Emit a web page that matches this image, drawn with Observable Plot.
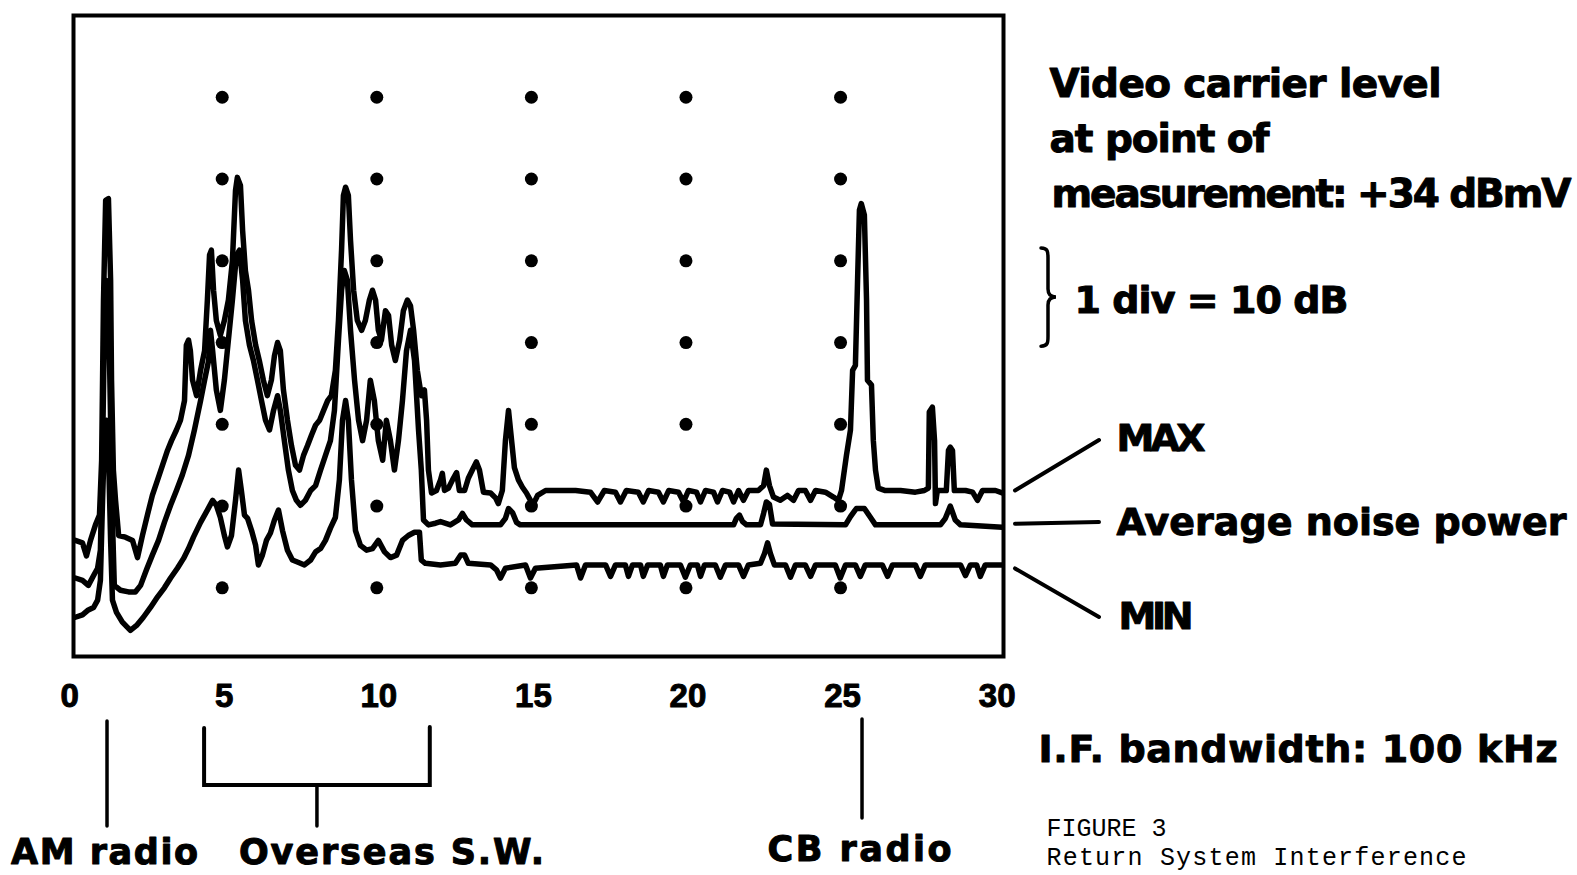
<!DOCTYPE html>
<html>
<head>
<meta charset="utf-8">
<script src="https://cdn.jsdelivr.net/npm/d3@7"></script>
<script src="https://cdn.jsdelivr.net/npm/@observablehq/plot@0.6"></script>
<style>
  html, body { margin: 0; padding: 0; background: #fff; }
  #chart svg { display: block; }
</style>
</head>
<body>
<div id="chart"></div>
<script>
// Return-path interference spectrum, 0–30 MHz, I.F. bandwidth 100 kHz.
// Levels are dB below the top graticule line (1 division = 10 dB).
// Each trace is a list of [frequency MHz, level dB] samples.

const maxTrace = [
  [0.25,-64.2],[0.48,-64.5],[0.61,-66.1],[0.74,-64.2],[0.90,-62.3],[1.03,-61.1],[1.10,-54.4],
  [1.16,-34.8],[1.23,-22.6],[1.32,-22.4],[1.39,-32.4],[1.42,-44.6],[1.48,-55.6],[1.55,-59.3],
  [1.65,-63.6],[1.87,-63.8],[2.10,-64.2],[2.26,-66.3],[2.42,-63.6],[2.58,-61.1],[2.74,-58.7],
  [2.91,-56.8],[3.07,-55.0],[3.23,-53.2],[3.36,-52.0],[3.52,-50.7],[3.65,-49.5],[3.78,-47.1],
  [3.84,-40.3],[3.91,-39.7],[3.97,-41.0],[4.04,-44.6],[4.17,-46.5],[4.30,-43.4],[4.43,-41.0],
  [4.52,-34.8],[4.59,-29.3],[4.65,-28.7],[4.72,-33.6],[4.81,-37.3],[4.94,-39.1],[5.07,-37.3],
  [5.20,-34.8],[5.33,-30.0],[5.43,-21.4],[5.49,-19.8],[5.59,-20.8],[5.66,-26.3],[5.75,-31.2],
  [5.85,-33.6],[5.95,-37.3],[6.08,-40.3],[6.20,-42.2],[6.33,-44.6],[6.46,-46.5],[6.59,-44.6],
  [6.69,-41.6],[6.79,-40.0],[6.88,-41.0],[6.98,-45.8],[7.11,-49.5],[7.24,-52.6],[7.37,-55.0],
  [7.50,-55.6],[7.63,-53.8],[7.76,-52.6],[7.89,-51.3],[8.02,-50.1],[8.15,-49.5],[8.28,-48.3],
  [8.41,-47.1],[8.53,-46.5],[8.66,-43.4],[8.76,-37.3],[8.86,-28.7],[8.92,-22.0],[8.99,-21.0],
  [9.08,-22.0],[9.15,-27.5],[9.25,-33.6],[9.37,-37.3],[9.51,-38.5],[9.63,-37.3],[9.76,-34.8],
  [9.86,-33.6],[9.96,-34.8],[10.05,-38.5],[10.15,-39.7],[10.28,-36.1],[10.38,-36.7],[10.48,-40.3],
  [10.60,-42.2],[10.74,-39.7],[10.86,-36.1],[10.99,-34.8],[11.09,-35.5],[11.19,-38.5],[11.31,-43.4],
  [11.44,-46.5],[11.54,-45.8],[11.61,-49.5],[11.67,-55.6],[11.77,-58.4],[11.93,-58.1],[12.06,-56.8],
  [12.12,-56.0],[12.19,-58.1],[12.32,-57.8],[12.45,-56.8],[12.58,-55.9],[12.67,-58.1],[12.84,-58.1],
  [12.96,-56.6],[13.09,-55.6],[13.22,-54.6],[13.32,-55.6],[13.45,-58.3],[13.68,-58.4],[13.84,-59.0],
  [13.93,-59.7],[14.06,-58.1],[14.16,-52.0],[14.26,-48.3],[14.36,-52.0],[14.45,-55.3],[14.58,-56.8],
  [14.71,-57.7],[14.84,-58.4],[14.97,-59.3],[15.07,-59.7],[15.20,-58.7],[15.46,-58.1],[16.43,-58.1],
  [16.91,-58.3],[17.14,-59.5],[17.36,-58.1],[17.72,-58.3],[17.88,-59.5],[18.07,-58.1],[18.46,-58.3],
  [18.62,-59.5],[18.79,-58.1],[19.11,-58.3],[19.27,-59.5],[19.44,-58.1],[19.76,-58.3],[19.92,-59.5],
  [20.08,-58.1],[20.34,-58.3],[20.47,-59.5],[20.63,-58.1],[20.89,-58.3],[21.02,-59.5],[21.18,-58.1],
  [21.41,-58.3],[21.54,-59.5],[21.70,-58.1],[21.86,-59.3],[22.02,-58.1],[22.34,-58.1],[22.51,-57.5],
  [22.60,-55.6],[22.70,-57.5],[22.83,-58.9],[23.05,-59.3],[23.28,-58.7],[23.48,-59.3],[23.64,-58.1],
  [23.86,-58.1],[24.03,-59.3],[24.19,-58.1],[24.51,-58.3],[24.77,-58.9],[24.93,-59.3],[25.03,-58.1],
  [25.19,-53.8],[25.32,-50.7],[25.39,-43.4],[25.48,-42.8],[25.55,-32.4],[25.61,-23.8],[25.67,-23.0],
  [25.77,-24.4],[25.84,-34.8],[25.87,-44.6],[26.00,-45.2],[26.06,-52.0],[26.13,-55.6],[26.22,-57.8],
  [26.45,-58.1],[26.94,-58.1],[27.42,-58.3],[27.71,-58.1],[27.84,-57.8],[27.87,-48.5],[27.97,-47.9],
  [28.04,-52.0],[28.07,-59.7],[28.13,-58.1],[28.42,-58.1],[28.49,-53.2],[28.55,-52.8],[28.62,-53.2],
  [28.68,-58.1],[29.04,-58.1],[29.27,-58.3],[29.43,-59.3],[29.59,-58.1],[30.01,-58.1],[30.23,-58.4]
];

const avgTrace = [
  [0.25,-68.8],[0.48,-69.1],[0.67,-69.7],[0.84,-68.5],[0.97,-67.6],[1.06,-65.4],[1.13,-53.2],
  [1.19,-38.5],[1.26,-32.4],[1.32,-34.8],[1.39,-49.5],[1.45,-61.7],[1.51,-69.7],[1.71,-70.3],
  [1.97,-70.5],[2.19,-70.5],[2.36,-69.7],[2.55,-67.8],[2.74,-66.0],[2.94,-64.2],[3.13,-62.0],
  [3.33,-59.9],[3.52,-58.1],[3.71,-56.2],[3.91,-53.8],[4.10,-50.7],[4.30,-47.1],[4.43,-44.6],
  [4.56,-42.2],[4.62,-38.5],[4.69,-41.0],[4.81,-45.8],[4.94,-48.3],[5.07,-44.6],[5.20,-39.7],
  [5.33,-34.8],[5.46,-29.3],[5.56,-28.7],[5.66,-32.4],[5.75,-37.3],[5.88,-40.3],[6.01,-42.2],
  [6.14,-44.6],[6.27,-47.1],[6.40,-49.5],[6.53,-50.7],[6.66,-48.3],[6.79,-46.5],[6.88,-48.3],
  [7.01,-52.0],[7.14,-55.6],[7.27,-58.1],[7.40,-59.3],[7.53,-59.9],[7.69,-59.3],[7.86,-58.1],
  [8.02,-57.5],[8.18,-55.6],[8.34,-53.8],[8.50,-52.0],[8.63,-48.3],[8.76,-39.7],[8.86,-33.6],
  [8.95,-31.2],[9.05,-32.4],[9.15,-38.5],[9.28,-44.6],[9.41,-49.5],[9.54,-52.0],[9.67,-49.5],
  [9.79,-44.6],[9.92,-47.1],[10.05,-52.0],[10.19,-54.4],[10.31,-49.5],[10.44,-52.0],[10.57,-55.6],
  [10.70,-52.0],[10.83,-47.1],[10.96,-41.0],[11.09,-38.5],[11.22,-42.2],[11.35,-50.7],[11.44,-55.6],
  [11.51,-61.7],[11.67,-62.3],[11.90,-62.1],[12.06,-61.9],[12.38,-62.3],[12.64,-61.7],[12.77,-60.9],
  [12.90,-61.7],[13.09,-62.3],[14.00,-62.3],[14.16,-61.5],[14.26,-60.3],[14.39,-60.8],[14.52,-62.0],
  [14.64,-62.3],[21.54,-62.3],[21.63,-61.5],[21.73,-61.1],[21.83,-61.9],[21.96,-62.3],[22.41,-62.3],
  [22.51,-60.9],[22.60,-59.5],[22.70,-59.8],[22.80,-62.2],[25.16,-62.3],[25.32,-61.3],[25.51,-60.3],
  [25.77,-60.3],[25.97,-61.4],[26.13,-62.3],[28.23,-62.3],[28.39,-61.5],[28.55,-60.0],[28.71,-61.7],
  [28.88,-62.3],[30.23,-62.6]
];

const minTrace = [
  [0.25,-73.6],[0.48,-73.3],[0.67,-72.7],[0.84,-72.4],[0.97,-71.5],[1.06,-69.1],[1.13,-59.3],
  [1.19,-52.0],[1.26,-49.5],[1.32,-53.2],[1.39,-64.2],[1.45,-71.5],[1.58,-73.0],[1.77,-74.2],
  [2.03,-75.2],[2.23,-74.6],[2.45,-73.6],[2.68,-72.4],[2.91,-71.1],[3.13,-70.0],[3.33,-68.8],
  [3.55,-67.6],[3.75,-66.4],[3.91,-65.2],[4.07,-63.8],[4.30,-62.0],[4.52,-60.5],[4.69,-59.3],
  [4.81,-59.9],[4.94,-61.4],[5.07,-63.6],[5.17,-65.0],[5.30,-63.6],[5.43,-59.3],[5.53,-55.6],
  [5.62,-58.1],[5.72,-61.1],[5.82,-61.5],[5.95,-63.0],[6.08,-64.8],[6.17,-67.2],[6.30,-66.0],
  [6.43,-64.2],[6.56,-63.3],[6.69,-61.7],[6.82,-60.5],[6.95,-63.0],[7.11,-65.4],[7.27,-66.6],
  [7.47,-66.9],[7.66,-67.2],[7.86,-66.6],[8.02,-65.6],[8.18,-65.2],[8.34,-64.2],[8.50,-62.7],
  [8.66,-61.4],[8.79,-56.8],[8.89,-49.5],[8.99,-47.1],[9.08,-49.5],[9.18,-56.8],[9.31,-63.0],
  [9.47,-64.8],[9.67,-65.4],[9.86,-65.2],[10.05,-64.2],[10.25,-65.6],[10.44,-66.3],[10.64,-66.0],
  [10.83,-64.2],[11.02,-63.6],[11.22,-63.2],[11.38,-63.2],[11.44,-66.6],[11.57,-67.0],[12.06,-67.2],
  [12.54,-67.0],[12.71,-66.0],[12.84,-66.0],[12.96,-67.0],[13.68,-67.2],[13.87,-67.8],[14.00,-68.8],
  [14.16,-67.6],[14.81,-67.2],[14.97,-68.8],[15.13,-67.6],[16.46,-67.2],[16.59,-68.8],[16.75,-67.2],
  [17.40,-67.2],[17.56,-68.6],[17.72,-67.2],[18.04,-67.2],[18.14,-68.6],[18.27,-67.2],[18.53,-67.2],
  [18.62,-68.6],[18.76,-67.2],[19.17,-67.2],[19.27,-68.6],[19.40,-67.2],[19.82,-67.2],[19.98,-68.7],
  [20.14,-67.2],[20.37,-67.2],[20.47,-68.6],[20.60,-67.2],[20.95,-67.2],[21.11,-68.7],[21.28,-67.2],
  [21.70,-67.2],[21.86,-68.6],[22.02,-67.2],[22.41,-67.0],[22.54,-65.8],[22.64,-64.5],[22.73,-65.8],
  [22.86,-67.2],[23.22,-67.2],[23.38,-68.7],[23.54,-67.2],[23.86,-67.2],[24.03,-68.6],[24.19,-67.2],
  [24.83,-67.2],[24.99,-68.8],[25.16,-67.2],[25.48,-67.2],[25.64,-68.6],[25.80,-67.2],[26.35,-67.2],
  [26.52,-68.6],[26.68,-67.2],[27.42,-67.2],[27.58,-68.6],[27.74,-67.2],[28.88,-67.2],[29.04,-68.5],
  [29.20,-67.2],[29.40,-67.2],[29.52,-68.6],[29.68,-67.2],[30.23,-67.2]
];

// Graticule dots (every 5 MHz, every 10 dB) and frequency labels.
const divFreqs = [5, 10, 15, 20, 25];
const divLevels = [-10, -20, -30, -40, -50, -60, -70];
const freqTicks = [0, 5, 10, 15, 20, 25, 30];

// Interference sources marked under the frequency axis (MHz).
const bandNames = ["AM radio", "Overseas S.W.", "CB radio"];
const bandLow = [1.29, 4.43, 25.71];
const bandHigh = [1.29, 11.73, 25.71];

const traceNames = ["MAX", "Average noise power", "MIN"];
const traces = [maxTrace, avgTrace, minTrace];

const FONT = "DejaVu Sans, Liberation Sans, sans-serif";
const TYPEWRITER = "Liberation Mono, DejaVu Sans Mono, monospace";

const heavy = {
  fontFamily: FONT, fontWeight: "bold", fill: "black", stroke: "black",
  strokeWidth: 1, textAnchor: "start", lineAnchor: "bottom", text: d => d
};

// Notes to the right of the screen: [text, dx, dy from top-right corner, size]
const notes = [
  ["Video carrier level", 46, 81, 39],
  ["at point of", 46, 136, 39],
  ["measurement: +34 dBmV", 48, 191, 39],
  ["1 div = 10 dB", 71, 297, 38],
  [traceNames[0], 113, 435, 38],
  [traceNames[1], 113, 519, 38],
  [traceNames[2], 115, 613, 38],
  ["I.F. bandwidth: 100 kHz", 35, 746, 38]
];
const textWidths = new Map([
  ["Video carrier level", 392], ["at point of", 220], ["measurement: +34 dBmV", 520],
  ["1 div = 10 dB", 274], ["MAX", 89], ["Average noise power", 450], ["MIN", 75],
  ["I.F. bandwidth: 100 kHz", 519], ["AM radio", 187], ["Overseas S.W.", 305],
  ["CB radio", 184], ["Return System Interference", 420]
]);

const grid = d3.cross(divFreqs, divLevels);

const chart = Plot.plot({
  width: 1577,
  height: 875,
  marginLeft: 73,
  marginRight: 574,
  marginTop: 15,
  marginBottom: 219,
  style: {background: "white", color: "black", fontFamily: FONT, overflow: "visible"},
  x: {domain: [0.19, 30.27], axis: null},
  y: {domain: [-78.4, 0], axis: null},
  marks: [
    Plot.dot(grid, {x: d => d[0], y: d => d[1], r: 6.5, fill: "black"}),
    ...traces.map(t => Plot.line(t, {
      x: d => d[0], y: d => d[1], stroke: "black", strokeWidth: 5.5,
      strokeLinejoin: "round", strokeLinecap: "round", clip: true
    })),
    Plot.frame({stroke: "black", strokeWidth: 4}),
    Plot.text(freqTicks, {
      x: d => d, text: d => String(d), frameAnchor: "bottom", dy: 50, dx: 2,
      lineAnchor: "bottom", fontSize: 33, fontWeight: "bold", fontFamily: "Liberation Sans, sans-serif",
      fill: "black", stroke: "black", strokeWidth: 1
    }),
    ...notes.map(([t, dx, dy, size]) =>
      Plot.text([t], {...heavy, frameAnchor: "top-right", dx, dy, fontSize: size})),
    Plot.text([bandNames[0]], {...heavy, x: bandLow[0], frameAnchor: "bottom", textAnchor: "middle", dy: 207, dx: -3, fontSize: 35}),
    Plot.text([bandNames[1]], {...heavy, x: (bandLow[1] + bandHigh[1]) / 2, frameAnchor: "bottom", textAnchor: "middle", dy: 207, dx: 74, fontSize: 35}),
    Plot.text([bandNames[2]], {...heavy, x: bandLow[2], frameAnchor: "bottom", textAnchor: "middle", dy: 204, dx: -3, fontSize: 35}),
    Plot.text(["FIGURE 3"], {text: d => d, frameAnchor: "top-right", dx: 43, dy: 820, textAnchor: "start", lineAnchor: "bottom", fontFamily: TYPEWRITER, fontSize: 25, fill: "black"}),
    Plot.text(["Return System Interference"], {text: d => d, frameAnchor: "top-right", dx: 43, dy: 849, textAnchor: "start", lineAnchor: "bottom", fontFamily: TYPEWRITER, fontSize: 25, fill: "black"})
  ]
});

document.getElementById("chart").appendChild(chart);

// Fit the annotation texts to their set widths.
d3.select(chart).selectAll("text").each(function () {
  const w = textWidths.get(this.textContent);
  if (w) d3.select(this).attr("textLength", w).attr("lengthAdjust", "spacing");
});

// Brackets under the axis, leader lines to the trace names, and the division brace.
const xs = chart.scale("x");
const ys = chart.scale("y");
const ink = d3.select(chart).append("g")
  .attr("fill", "none").attr("stroke", "black").attr("stroke-linecap", "round");

// AM radio and CB radio: single stems
[[0, 721, 826], [2, 719, 818]].forEach(([i, y1, y2]) => {
  const x = xs.apply(bandLow[i]);
  ink.append("line").attr("x1", x).attr("x2", x).attr("y1", y1).attr("y2", y2).attr("stroke-width", 3.5);
});
// Overseas S.W.: bracket spanning the band with a centre stem
{
  const xl = xs.apply(bandLow[1]), xr = xs.apply(bandHigh[1]), xm = (xl + xr) / 2;
  ink.append("path").attr("stroke-width", 4)
    .attr("d", `M${xl},728 L${xl},785 L${xr},785 L${xr},727`);
  ink.append("line").attr("x1", xm).attr("x2", xm).attr("y1", 785).attr("y2", 826).attr("stroke-width", 3.5);
}

// Leader lines from the trace ends to their names
const xEnd = xs.apply(30.27);
const leaderEnds = [[84, 440], [84, 522], [84, 617]];
traces.forEach((t, i) => {
  const yStart = ys.apply(t[t.length - 1][1]);
  const [len, yEnd] = leaderEnds[i];
  ink.append("line")
    .attr("x1", xEnd + 12).attr("y1", yStart - (i === 0 ? 2 : i === 1 ? 3 : -4))
    .attr("x2", xEnd + 12 + len).attr("y2", yEnd)
    .attr("stroke-width", 4);
});

// Brace marking one vertical division
{
  const yTop = ys.apply(-28.5), yBot = ys.apply(-40.5), yMid = (yTop + yBot) / 2;
  const x0 = xEnd + 38, x1 = xEnd + 45, x2 = xEnd + 53;
  ink.append("path").attr("stroke-width", 3.5).attr("d",
    `M${x0},${yTop} C${x1},${yTop} ${x1},${yTop + 4} ${x1},${yTop + 10} L${x1},${yMid - 8} ` +
    `C${x1},${yMid - 3} ${x1 + 2},${yMid} ${x2},${yMid} C${x1 + 2},${yMid} ${x1},${yMid + 3} ${x1},${yMid + 8} ` +
    `L${x1},${yBot - 10} C${x1},${yBot - 4} ${x1},${yBot} ${x0},${yBot}`);
}
</script>
</body>
</html>
